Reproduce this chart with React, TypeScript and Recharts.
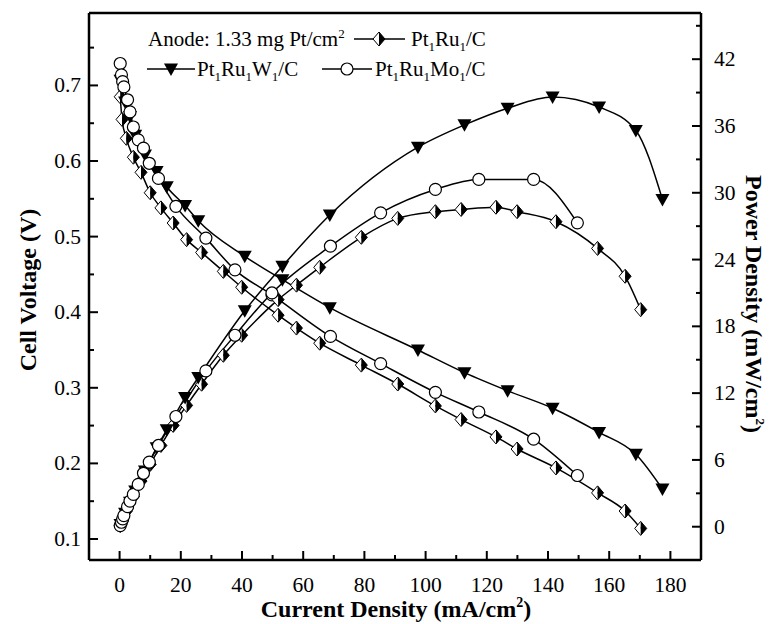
import React from 'react';
import { ComposedChart, Line, XAxis, YAxis, ReferenceLine, Label } from 'recharts';

// Pt1Ru1/C (half-filled diamonds)
const ruCurrent = [0.2, 0.8, 2.2, 4.5, 7, 10, 13.5, 17.5, 21.9, 26.8, 33.9, 39.9, 51.8, 57.8, 65.4, 79, 90.9, 103.2, 111.6, 123, 129.9, 142.6, 156.2, 165.2, 170.3];
const ruVoltage = [0.685, 0.655, 0.63, 0.605, 0.585, 0.558, 0.538, 0.518, 0.496, 0.479, 0.454, 0.433, 0.396, 0.379, 0.359, 0.33, 0.305, 0.276, 0.258, 0.235, 0.219, 0.194, 0.161, 0.137, 0.114];
const ruPower = [0.1, 0.5, 1.4, 2.7, 4.1, 5.6, 7.3, 9.1, 10.9, 12.8, 15.4, 17.2, 20.4, 21.7, 23.3, 26.0, 27.7, 28.3, 28.5, 28.7, 28.3, 27.4, 25.0, 22.5, 19.5];

// Pt1Ru1W1/C (filled down triangles)
const wCurrent = [0.3, 1.8, 3.4, 5.1, 8.3, 12.1, 15.4, 21.4, 25.7, 40.9, 53.2, 68.7, 97.5, 112.7, 126.8, 141.5, 156.7, 168.7, 177.4];
const wVoltage = [0.707, 0.678, 0.659, 0.634, 0.608, 0.586, 0.566, 0.541, 0.521, 0.474, 0.443, 0.406, 0.35, 0.32, 0.296, 0.273, 0.241, 0.212, 0.166];
const wPower = [0.2, 1.2, 2.2, 3.2, 5.0, 7.1, 8.7, 11.6, 13.4, 19.4, 23.4, 28.0, 34.1, 36.1, 37.6, 38.6, 37.7, 35.6, 29.4];

// Pt1Ru1Mo1/C (open circles)
const moCurrent = [0.2, 0.6, 1.0, 1.4, 2.6, 3.4, 4.5, 6.1, 7.8, 9.7, 12.7, 18.4, 28.2, 37.7, 49.8, 68.9, 85.3, 103.2, 117.4, 135.3, 149.6];
const moVoltage = [0.729, 0.714, 0.705, 0.698, 0.681, 0.665, 0.645, 0.628, 0.617, 0.597, 0.577, 0.54, 0.498, 0.456, 0.423, 0.368, 0.332, 0.294, 0.268, 0.232, 0.184];
const moPower = [0.1, 0.4, 0.7, 1.0, 1.8, 2.3, 2.9, 3.8, 4.8, 5.8, 7.3, 9.9, 14.0, 17.2, 21.0, 25.2, 28.2, 30.3, 31.2, 31.2, 27.3];

const xTicks = [0, 10, 20, 30, 40, 50, 60, 70, 80, 90, 100, 110, 120, 130, 140, 150, 160, 170, 180];
const vTicks = [0.1, 0.15, 0.2, 0.25, 0.3, 0.35, 0.4, 0.45, 0.5, 0.55, 0.6, 0.65, 0.7, 0.75];
const pTicks = [0, 3, 6, 9, 12, 15, 18, 21, 24, 27, 30, 33, 36, 39, 42, 45];

const SERIF = '"Liberation Serif", "Times New Roman", serif';
const serif = { fontFamily: SERIF };
const V_MIN = 0.0722;
const V_MAX = 0.7958;

const toRows = (xs: number[], ys: number[]) => xs.map((i, k) => ({ i, y: ys[k] }));

const HalfDiamond = (props: any) => {
  const { cx, cy } = props;
  if (cx == null || cy == null) return <g />;
  const h = 7, w = 6;
  return (
    <g>
      <path d={`M${cx},${cy - h}L${cx - w},${cy}L${cx},${cy + h}Z`} fill="#fff" />
      <path d={`M${cx},${cy - h}L${cx + w},${cy}L${cx},${cy + h}Z`} fill="#000" />
      <path d={`M${cx},${cy - h}L${cx + w},${cy}L${cx},${cy + h}L${cx - w},${cy}Z`} fill="none" stroke="#000" strokeWidth={1} />
    </g>
  );
};

const DownTriangle = (props: any) => {
  const { cx, cy } = props;
  if (cx == null || cy == null) return <g />;
  return <path d={`M${cx - 7},${cy - 5.5}L${cx + 7},${cy - 5.5}L${cx},${cy + 7}Z`} fill="#000" />;
};

const OpenCircle = (props: any) => {
  const { cx, cy } = props;
  if (cx == null || cy == null) return <g />;
  return <circle cx={cx} cy={cy} r={6} fill="#fff" stroke="#000" strokeWidth={1.2} />;
};

const XTick = (props: any) => {
  const { x, y, payload } = props;
  const major = payload.value % 20 === 0;
  return (
    <g>
      <line x1={x} x2={x} y1={y} y2={y - (major ? 9 : 5)} stroke="#000" strokeWidth={2} />
      {major && (
        <text x={x} y={y + 32} textAnchor="middle" style={serif} fontSize={21.5} fill="#000">
          {payload.value}
        </text>
      )}
    </g>
  );
};

const VTick = (props: any) => {
  const { x, y, payload } = props;
  const major = Math.round(payload.value * 100) % 10 === 0;
  return (
    <g>
      <line x1={x} x2={x + (major ? 9 : 5)} y1={y} y2={y} stroke="#000" strokeWidth={2} />
      {major && (
        <text x={x - 8} y={y + 7} textAnchor="end" style={serif} fontSize={21.5} fill="#000">
          {payload.value.toFixed(1)}
        </text>
      )}
    </g>
  );
};

const PTick = (props: any) => {
  const { x, y, payload } = props;
  const major = payload.value % 6 === 0;
  return (
    <g>
      <line x1={x} x2={x - (major ? 9 : 5)} y1={y} y2={y} stroke="#000" strokeWidth={2} />
      {major && (
        <text x={x + 13} y={y + 7} textAnchor="start" style={serif} fontSize={21.5} fill="#000">
          {payload.value}
        </text>
      )}
    </g>
  );
};

// alternating normal / subscript pieces
const Formula = ({ parts }: { parts: string[] }) => (
  <>
    {parts.map((p, k) =>
      k % 2 === 1 ? (
        <tspan key={k} dy={5} fontSize={13}>{p}</tspan>
      ) : (
        <tspan key={k} dy={k === 0 ? 0 : -5}>{p}</tspan>
      )
    )}
  </>
);

const LegendBox = () => (
  <svg width={774} height={100} style={{ position: 'absolute', left: 0, top: 0, pointerEvents: 'none' }}>
    <g style={serif} fontSize={21} fill="#000">
      <text x={148} y={46}>
        Anode: 1.33 mg Pt/cm<tspan dy={-8} fontSize={13}>2</tspan>
      </text>
      <line x1={354} x2={405} y1={39} y2={39} stroke="#000" strokeWidth={1.5} />
      <HalfDiamond cx={379} cy={39} />
      <text x={411} y={46}><Formula parts={['Pt', '1', 'Ru', '1', '/C']} /></text>

      <line x1={147} x2={195} y1={69} y2={69} stroke="#000" strokeWidth={1.5} />
      <DownTriangle cx={171} cy={69} />
      <text x={197} y={76}><Formula parts={['Pt', '1', 'Ru', '1', 'W', '1', '/C']} /></text>

      <line x1={322} x2={372} y1={69} y2={69} stroke="#000" strokeWidth={1.5} />
      <OpenCircle cx={347} cy={69} />
      <text x={375} y={76}><Formula parts={['Pt', '1', 'Ru', '1', 'Mo', '1', '/C']} /></text>
    </g>
  </svg>
);

const series = [
  { name: 'Pt1Ru1/C', cur: ruCurrent, v: ruVoltage, p: ruPower, dot: HalfDiamond },
  { name: 'Pt1Ru1W1/C', cur: wCurrent, v: wVoltage, p: wPower, dot: DownTriangle },
  { name: 'Pt1Ru1Mo1/C', cur: moCurrent, v: moVoltage, p: moPower, dot: OpenCircle },
];

export default function App() {
  return (
    <div style={{ position: 'absolute', left: 0, top: 0, width: 774, height: 624, background: '#fff', fontFamily: SERIF }}>
      <ComposedChart width={774} height={624} margin={{ top: 13, right: 0, bottom: 0, left: 0 }} style={serif}>
        <XAxis
          dataKey="i"
          type="number"
          domain={[-10, 190]}
          ticks={xTicks}
          allowDataOverflow
          height={64}
          tickSize={0}
          tickMargin={0}
          tick={<XTick />}
          axisLine={{ stroke: '#000', strokeWidth: 2.5 }}
          tickLine={false}
        >
          <Label
            content={() => (
              <text x={396} y={617} textAnchor="middle" style={serif} fontSize={24} fontWeight="bold">
                Current Density (mA/cm<tspan dy={-10} fontSize={14}>2</tspan><tspan dy={10}>)</tspan>
              </text>
            )}
          />
        </XAxis>
        <YAxis
          yAxisId="v"
          orientation="left"
          type="number"
          domain={[V_MIN, V_MAX]}
          ticks={vTicks}
          allowDataOverflow
          width={89}
          tickSize={0}
          tickMargin={0}
          tick={<VTick />}
          axisLine={{ stroke: '#000', strokeWidth: 2.5 }}
          tickLine={false}
        >
          <Label
            content={() => (
              <text x={30} y={290} transform="rotate(-90 30 290)" textAnchor="middle" dominantBaseline="middle" style={serif} fontSize={24} fontWeight="bold">
                Cell Voltage (V)
              </text>
            )}
          />
        </YAxis>
        <YAxis
          yAxisId="p"
          orientation="right"
          type="number"
          domain={[-2.99, 46.15]}
          ticks={pTicks}
          allowDataOverflow
          width={73}
          tickSize={0}
          tickMargin={0}
          tick={<PTick />}
          axisLine={{ stroke: '#000', strokeWidth: 2.5 }}
          tickLine={false}
        >
          <Label
            content={() => (
              <text x={751} y={304} transform="rotate(90 751 304)" textAnchor="middle" dominantBaseline="middle" style={serif} fontSize={24} fontWeight="bold">
                Power Density (mW/cm<tspan dy={-8} fontSize={13}>2</tspan><tspan dy={8}>)</tspan>
              </text>
            )}
          />
        </YAxis>
        <ReferenceLine yAxisId="v" y={V_MAX} stroke="#000" strokeWidth={2.5} />

        {series.map((s) => (
          <Line
            key={s.name + '-v'}
            yAxisId="v"
            data={toRows(s.cur, s.v)}
            dataKey="y"
            type="monotone"
            stroke="#000"
            strokeWidth={1.5}
            dot={<s.dot />}
            activeDot={false}
            isAnimationActive={false}
          />
        ))}
        {series.map((s) => (
          <Line
            key={s.name + '-p'}
            yAxisId="p"
            data={toRows(s.cur, s.p)}
            dataKey="y"
            type="monotone"
            stroke="#000"
            strokeWidth={1.5}
            dot={<s.dot />}
            activeDot={false}
            isAnimationActive={false}
          />
        ))}
      </ComposedChart>
      <LegendBox />
    </div>
  );
}
